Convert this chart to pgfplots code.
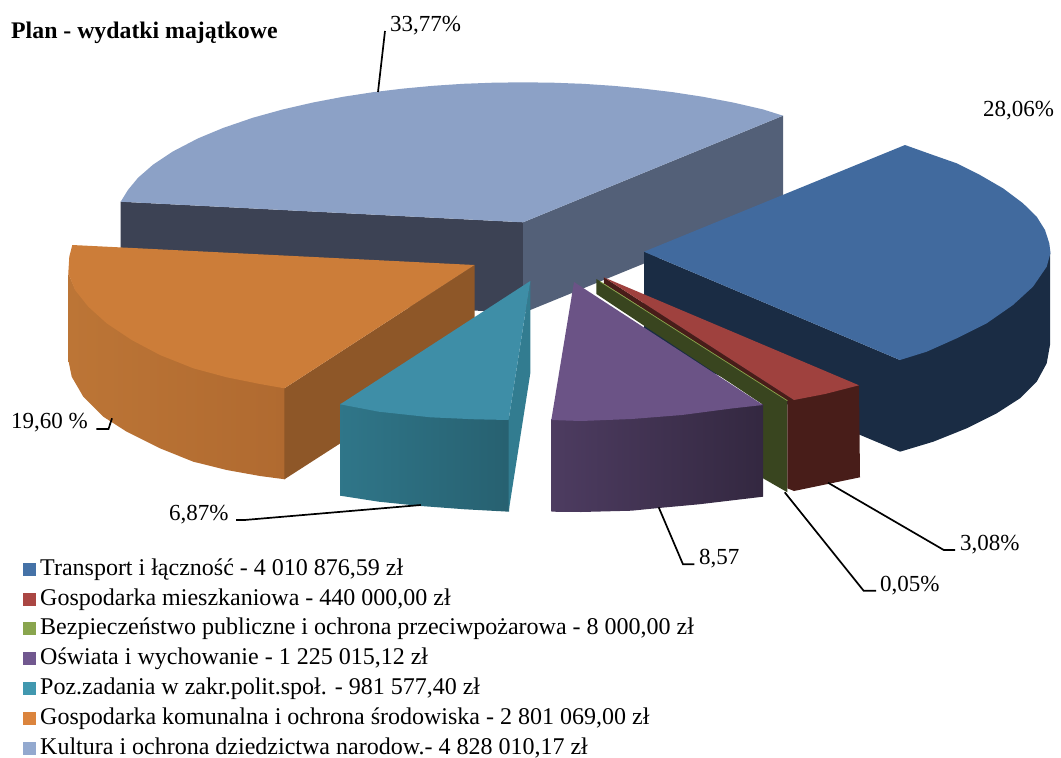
\documentclass[border=0pt]{standalone}
\usepackage{fontspec}
\setmainfont{Liberation Serif}
\usepackage{pgfplots}
\pgfplotsset{compat=1.18}
\definecolor{cultop}{HTML}{8CA1C6}
\definecolor{culdark}{HTML}{3C4254}
\definecolor{culside}{HTML}{536078}
\definecolor{bluetop}{HTML}{416A9E}
\definecolor{blueside}{HTML}{1A2C44}
\definecolor{redtop}{HTML}{9F413E}
\definecolor{redside}{HTML}{481D19}
\definecolor{greenside}{HTML}{39451F}
\definecolor{greenline}{HTML}{8CA84C}
\definecolor{purptop}{HTML}{6B5386}
\definecolor{tealtop}{HTML}{3E8EA7}
\definecolor{tealside}{HTML}{327C90}
\definecolor{orgtop}{HTML}{CC7D39}
\definecolor{orgside}{HTML}{8E5728}
\definecolor{orgl}{HTML}{BC7536}
\definecolor{orgm}{HTML}{C17434}
\definecolor{orgr}{HTML}{B06A30}
\definecolor{lgblue}{HTML}{4572A7}
\definecolor{lgred}{HTML}{AA4643}
\definecolor{lggreen}{HTML}{89A54E}
\definecolor{lgpurp}{HTML}{71588F}
\definecolor{lgteal}{HTML}{4198AF}
\definecolor{lgorg}{HTML}{DB843D}
\definecolor{lgcul}{HTML}{93A9CF}
\tikzset{lab/.style={font=\fontsize{23}{27}\selectfont,inner sep=0pt,text=black}}
\pgfplotsset{
  sl/.style={draw=none,fill=#1,forget plot},
  lead/.style={draw=black,line width=1.7pt,forget plot},
  leg/.style={legend image code/.code={\fill[##1] (0pt,-6.5pt) rectangle (12.5pt,6.5pt);},draw=none,fill=#1},
}
\begin{document}
\begin{tikzpicture}
\begin{axis}[
  anchor=south west,at={(0pt,0pt)},
  width=1061pt,height=758pt,scale only axis,
  xmin=0,xmax=1061,ymin=0,ymax=758,y dir=reverse,
  hide axis,clip=false,
  legend style={at={(axis cs:23,559)},anchor=north west,draw=none,fill=none,
    font=\fontsize{24}{28}\selectfont,inner sep=0pt,column sep=4.5pt,
    row sep=9.8pt,nodes={inner ysep=0pt,inner xsep=0pt,text height=16pt,text depth=4pt}},
  legend cell align=left,
]
% Kultura
\addplot[sl=culdark] coordinates {(120.7,201.7)(523.5,222.3)(523.5,313)(120.7,293)} --cycle;
\addplot[sl=culside] coordinates {(523,222.3)(783,115.7)(783,206.7)(523,313)} --cycle;
\addplot[sl=cultop] coordinates {(120.7,201.7)(128,189.9)(138,177.8)(153,164.7)(173,151.4)(198,138.4)(223,128)(253,117.7)(283,109.4)(313,102.5)(343,96.8)(373,92.2)(403,88.6)(433,85.8)(463,83.8)(493,82.7)(523,82.3)(553,82.7)(583,83.8)(613,85.8)(643,88.6)(673,92.2)(703,96.8)(733,102.5)(763,109.4)(783,115.7)(523,222.3)} --cycle;
% Transport
\addplot[sl=blueside] coordinates {(644,251.7)(900,360)(1050,253)(1050,345)(1046.7,363.3)(1036.7,381.7)(1020,398.3)(996.7,413.3)(966.7,428.3)(933.3,441.7)(900,451.7)(644,344)} --cycle;
\addplot[sl=bluetop] coordinates {(644,251.7)(905,145)(933,155)(956.7,163.3)(980,175)(1003,188.3)(1023,203.3)(1036.7,216.7)(1045,230)(1049.3,243.3)(1050.5,253)(1046.7,266.7)(1033,286.7)(1013,305)(986.7,323.3)(956.7,338.3)(926.7,351.7)(900,360)} --cycle;
% Gospodarka komunalna
\addplot[draw=none,forget plot,left color=orgl,middle color=orgm,right color=orgr] coordinates {(68.3,273.3)(75,289)(88.3,305.7)(106.7,322.3)(131.7,339)(160,354)(193.3,367.3)(226.7,376.3)(260,383)(285,387)(285,479.3)(260,476)(226.7,470)(193.3,461.7)(160,448.3)(126.7,431.7)(103.3,416.7)(83.3,396.7)(71.7,376.7)(68.3,360)} --cycle;
\addplot[sl=orgside] coordinates {(284.4,388.3)(474.5,265)(474.5,357)(284.4,479.3)} --cycle;
\addplot[sl=orgtop] coordinates {(474.5,265)(72.3,245)(69.3,256.7)(68.3,273.3)(75,290)(88.3,306.7)(106.7,323.3)(131.7,340)(160,355)(193.3,368.3)(226.7,377.3)(260,384)(284.4,388.3)} --cycle;
% Poz. zadania
\addplot[draw=none,forget plot,left color=tealside!95!black,right color=tealside!78!black] coordinates {(340.2,403.5)(378.8,410.7)(430.4,416.3)(475,418.3)(509.2,419)(509.2,511.7)(465,509.3)(420.8,506)(378.8,501.7)(340.2,495.7)} --cycle;
\addplot[sl=tealside] coordinates {(530.3,281)(530.3,373.3)(508.6,511.7)(508.6,420)} --cycle;
\addplot[sl=tealtop] coordinates {(530.3,281)(340.2,404.3)(378.8,411.7)(430.4,417.3)(475,419.3)(508.6,420)} --cycle;
% Bezpieczenstwo
\addplot[sl=greenside] coordinates {(596.4,279)(787.4,400.7)(787.4,492.3)(763,478.3)(762,478)(762,404)(596.4,294)} --cycle;
% Oswiata
\addplot[draw=none,forget plot,left color=purptop!72!black,right color=purptop!48!black] coordinates {(551.3,419)(581,420)(631.6,418)(682,414)(733,407.3)(763,404)(763,496.7)(699,504.3)(658.7,508)(631.6,510.7)(581,512)(551.3,511.7)} --cycle;
\addplot[sl=purptop] coordinates {(574,282)(763,405)(733,408.3)(682,415)(631.6,419)(581,421)(551.3,420)} --cycle;
% Gospodarka mieszkaniowa
\addplot[sl=redside] coordinates {(603.8,277.3)(794,400)(859,385.3)(860,477.3)(794,491)(787.4,488.3)(787.4,400.7)(603.8,283.5)} --cycle;
\addplot[sl=redtop] coordinates {(603.8,277.3)(859,385.3)(825,394)(794,400)} --cycle;
\addplot[draw=greenline,line width=0.7pt,forget plot] coordinates {(600,281.5)(787.4,400.7)};
% linie odniesienia
\addplot[lead] coordinates {(378,92)(385,31)};
\addplot[lead] coordinates {(96.4,429)(108.5,429)(112,418.3)};
\addplot[lead] coordinates {(236,520)(244.5,520)(420.8,505)};
\addplot[lead] coordinates {(658.7,507.3)(683,564.3)(694.3,564.3)};
\addplot[lead] coordinates {(784.7,492.3)(863.6,590.7)(876,590.7)};
\addplot[lead] coordinates {(828,482.7)(943.8,550)(955,550)};
\node[lab,anchor=west] at (axis cs:390,26) {33,77\%};
\node[lab,anchor=west] at (axis cs:983,111) {28,06\%};
\node[lab,anchor=west] at (axis cs:960,545) {3,08\%};
\node[lab,anchor=west] at (axis cs:880,586) {0,05\%};
\node[lab,anchor=west] at (axis cs:699,559) {8,57};
\node[lab,anchor=west] at (axis cs:169,515) {6,87\%};
\node[lab,anchor=west] at (axis cs:11,423) {19,60 \%};
\node[anchor=west,inner sep=0pt,font=\fontsize{23.8}{27}\selectfont\bfseries] at (axis cs:11,33) {Plan - wydatki majątkowe};
% legenda
\addlegendimage{leg=lgblue}
\addlegendentry{Transport i łączność - 4 010 876,59 zł}
\addlegendimage{leg=lgred}
\addlegendentry{Gospodarka mieszkaniowa - 440 000,00 zł}
\addlegendimage{leg=lggreen}
\addlegendentry{Bezpieczeństwo publiczne i ochrona przeciwpożarowa - 8 000,00 zł}
\addlegendimage{leg=lgpurp}
\addlegendentry{Oświata i wychowanie - 1 225 015,12 zł}
\addlegendimage{leg=lgteal}
\addlegendentry{Poz.zadania w zakr.polit.społ. - 981 577,40 zł}
\addlegendimage{leg=lgorg}
\addlegendentry{Gospodarka komunalna i ochrona środowiska - 2 801 069,00 zł}
\addlegendimage{leg=lgcul}
\addlegendentry{Kultura i ochrona dziedzictwa narodow.- 4 828 010,17 zł}
\end{axis}
\pgfresetboundingbox
\path (0pt,0pt) rectangle (1061pt,758pt);
\end{tikzpicture}
\end{document}
